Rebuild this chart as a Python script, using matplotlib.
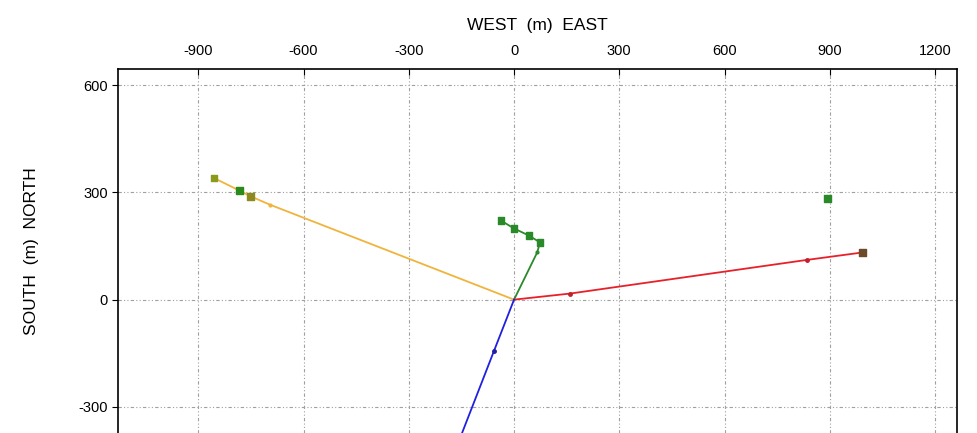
import matplotlib.pyplot as plt

plt.rcParams['font.family'] = ['Liberation Sans', 'DejaVu Sans']
plt.rcParams['axes.unicode_minus'] = False

# well paths (east, north) in metres
orange_x = [0, -697, -751, -783, -855]
orange_y = [0, 266, 289, 305, 340]

green_x = [0, 66, 74, 43, 0, -37]
green_y = [0, 132, 160, 179, 199, 221]

red_x = [0, 160, 834, 994]
red_y = [0, 17, 111, 132]

blue_x = [0, -57, -170]
blue_y = [0, -143, -428]

# square markers
sq_x = [-855, -783, -751, 43, 74, -37, 0, 894, 994]
sq_y = [340, 305, 289, 179, 160, 221, 199, 283, 132]
sq_c = ['#8a9a1a', '#2a8a1a', '#8a8a20', '#2a8a2a', '#2a8a2a', '#2a8a2a', '#2a8a2a', '#2a8a2a', '#6b4a2a']

xticks = [-900, -600, -300, 0, 300, 600, 900, 1200]
yticks = [-300, 0, 300, 600]

fig = plt.figure(figsize=(9.77, 4.33), dpi=100)
ax = fig.add_axes([0.1208, 0.0, 0.8588, 0.8406])

ax.plot(orange_x, orange_y, color='#f0b43c', lw=1.3, zorder=3)
ax.plot(orange_x[1:2], orange_y[1:2], 'o', color='#f0b43c', ms=2, zorder=3)
ax.plot(green_x, green_y, color='#2a8a2a', lw=1.3, zorder=3)
ax.plot(green_x[1:2], green_y[1:2], 'o', color='#2a8a2a', ms=2, zorder=3)
ax.plot(red_x, red_y, color='#e8202a', lw=1.3, zorder=3)
ax.plot(red_x[1:3], red_y[1:3], 'o', color='#c0202a', ms=2.5, zorder=3)
ax.plot(blue_x, blue_y, color='#2020e0', lw=1.3, zorder=3)
ax.plot(blue_x[1:2], blue_y[1:2], 'o', color='#2020a0', ms=2.5, zorder=3)
ax.scatter(sq_x, sq_y, marker='s', s=22, c=sq_c, zorder=4)

ax.set_xlim(-1129, 1263)
ax.set_ylim(-373, 645)
ax.set_xticks(xticks)
ax.set_yticks(yticks)
ax.xaxis.tick_top()
ax.xaxis.set_label_position('top')
ax.tick_params(axis='x', direction='in', length=4, labelsize=10.5, pad=8)
ax.tick_params(axis='y', direction='out', length=4, labelsize=10.5)
ax.grid(True, color='#a0a0a0', linestyle=(0, (3, 2, 1, 2, 1, 2)), lw=0.8)
ax.spines['bottom'].set_visible(False)
for s in ['top', 'left', 'right']:
    ax.spines[s].set_linewidth(1.2)

ax.set_xlabel('WEST  (m)  EAST', fontsize=12.5, labelpad=10)
ax.set_ylabel('SOUTH  (m)  NORTH', fontsize=12.5, labelpad=28)

fig.savefig('out.png', dpi=100)
